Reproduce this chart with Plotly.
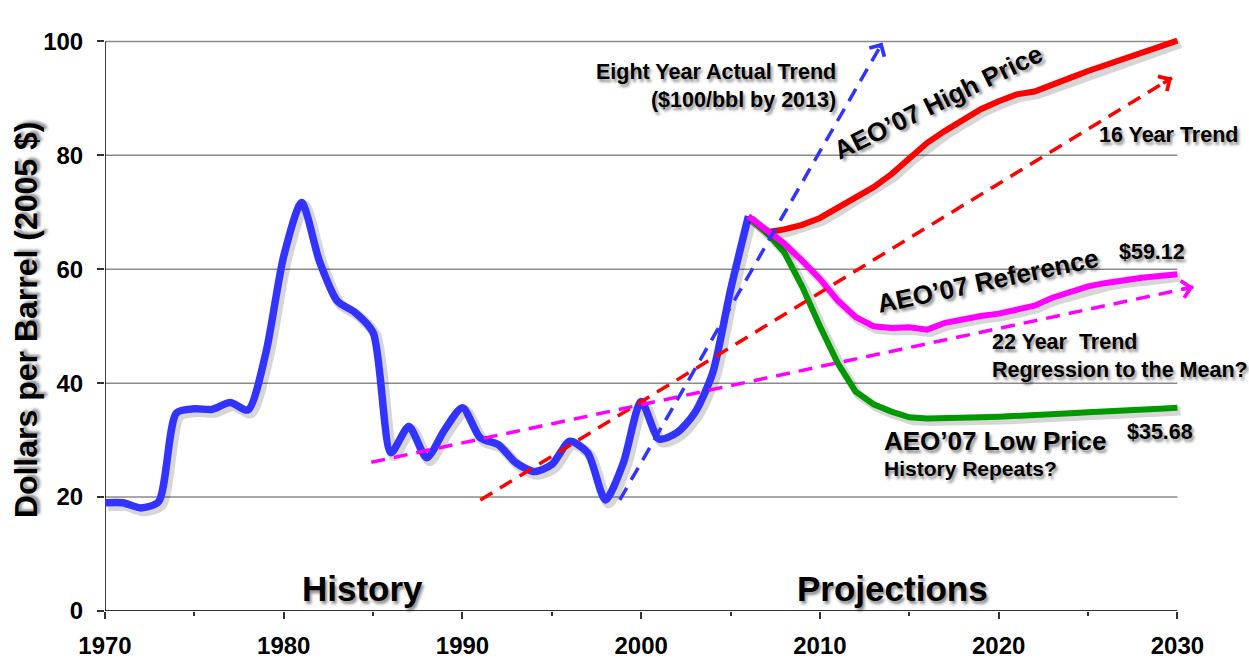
import plotly.graph_objects as go

# ---- data (2005 dollars per barrel) ----
hist_years = list(range(1970, 2007))
hist_price = [19.0, 19.0, 18.1, 19.2, 34.8, 35.5, 35.4, 36.6, 35.3, 45.3,
              62.3, 71.7, 61.4, 54.4, 52.4, 48.9, 27.8, 32.4, 26.9, 31.8,
              35.7, 30.4, 29.2, 26.0, 24.5, 25.7, 29.8, 27.8, 19.5, 26.0,
              36.8, 30.2, 31.3, 34.8, 41.8, 56.4, 69.3]

proj_years = list(range(2006, 2031))
high_price = [69.3, 66.5, 67.0, 67.8, 69.0, 70.9, 72.8, 74.4, 76.7, 79.6,
              82.2, 84.3, 86.2, 88.1, 89.5, 90.7, 91.2, 92.3, 93.6, 94.8,
              95.9, 97.0, 98.0, 99.1, 100.14]
reference_price = [69.3, 67.0, 64.5, 61.5, 58.3, 54.5, 51.6, 50.0, 49.7, 49.8,
                   49.4, 50.6, 51.3, 51.8, 52.2, 52.8, 53.6, 55.0, 56.0, 57.0,
                   57.6, 58.1, 58.5, 58.8, 59.12]
low_price = [69.3, 66.5, 63.0, 57.0, 50.0, 43.5, 38.5, 36.3, 35.0, 34.0,
             33.8, 33.8, 33.9, 34.0, 34.1, 34.2, 34.4, 34.5, 34.7, 34.9,
             35.0, 35.2, 35.4, 35.5, 35.68]

# trend lines: start/end (year, price)
trend_x0 = [1998.8, 1991.0, 1984.9]
trend_y0 = [19.5, 19.5, 26.1]
trend_x1 = [2013.5, 2029.7, 2030.9]
trend_y1 = [99.8, 93.6, 56.9]
trend_colors = ["#3333FF", "#FF0000", "#FF00FF"]

y_ticks = [0, 20, 40, 60, 80, 100]
x_ticks = [1970, 1980, 1990, 2000, 2010, 2020, 2030]

FONT = "Liberation Sans, Arial, sans-serif"
SHADOW = "2px 3px 3px rgba(0,0,0,0.45)"
SH_DX, SH_DY = 0.17, -0.55  # line shadow offset (years, dollars)

fig = go.Figure()


def add_line(x, y, color, width, spline=False):
    shape = "spline" if spline else "linear"
    fig.add_trace(go.Scatter(
        x=[v + SH_DX for v in x], y=[v + SH_DY for v in y], mode="lines",
        line=dict(color="rgba(0,0,0,0.16)", width=width + 3, shape=shape,
                  smoothing=0.7), hoverinfo="skip", showlegend=False))
    fig.add_trace(go.Scatter(
        x=x, y=y, mode="lines",
        line=dict(color=color, width=width, shape=shape, smoothing=0.7),
        showlegend=False))


add_line(hist_years, hist_price, "#3333FF", 7.5, spline=True)
add_line(proj_years, high_price, "#FF0000", 6)
add_line(proj_years, low_price, "#009900", 6)
add_line(proj_years, reference_price, "#FF00FF", 6)

# dashed trend lines with arrowheads
for x0, y0, x1, y1, c in zip(trend_x0, trend_y0, trend_x1, trend_y1, trend_colors):
    fig.add_trace(go.Scatter(x=[x0, x1], y=[y0, y1], mode="lines",
                             line=dict(color=c, width=3.5, dash="14px,9px"),
                             showlegend=False))
    t = 0.015
    fig.add_annotation(x=x1, y=y1, ax=x1 - t * (x1 - x0), ay=y1 - t * (y1 - y0),
                       xref="x", yref="y", axref="x", ayref="y", text="",
                       showarrow=True, arrowhead=4, arrowsize=0.95,
                       arrowwidth=3.5, arrowcolor=c)

# gridlines and axis lines
for v in y_ticks[1:]:
    fig.add_shape(type="line", xref="x", yref="y", x0=1970, x1=2030, y0=v, y1=v,
                  line=dict(color="#8a8a8a", width=1.5), layer="below")
fig.add_shape(type="line", xref="x", yref="y", x0=1970, x1=2030, y0=0, y1=0,
              line=dict(color="#333333", width=2), layer="below")
fig.add_shape(type="line", xref="x", yref="y", x0=1970, x1=1970, y0=0, y1=100,
              line=dict(color="#000000", width=1.5), layer="below")


def note(text, x, y, size, xanchor="center", angle=0, align="left", shadow=True):
    fig.add_annotation(x=x, y=y, xref="x", yref="y", text=text, showarrow=False,
                       xanchor=xanchor, yanchor="middle", textangle=angle,
                       align=align,
                       font=dict(family=FONT, size=size, color="black",
                                 weight="bold",
                                 shadow=SHADOW if shadow else "none"))


note("Eight Year Actual Trend<br>($100/bbl by 2013)", 2011.0, 92.1, 21.5,
     xanchor="right", align="right")
note("AEO’07 High Price", 2016.6, 89.4, 26, angle=-26)
note("16 Year Trend", 2025.5, 83.5, 21.5, xanchor="left")
note("$100.14", 2027.9, 103.8, 21)
note("AEO’07 Reference", 2019.35, 58.0, 26, angle=-12)
note("$59.12", 2028.6, 63.0, 21.5)
note("22 Year  Trend<br>Regression to the Mean?", 2019.5, 44.8, 21.5, xanchor="left")
note("AEO’07 Low Price", 2013.5, 29.9, 26, xanchor="left")
note("History Repeats?", 2013.5, 25.1, 21, xanchor="left")
note("$35.68", 2029.05, 31.5, 21.5)
note("History", 1984.4, 3.9, 35)
note("Projections", 2014.07, 3.9, 35)

fig.add_annotation(x=-0.071, y=51.2, xref="paper", yref="y",
                   text="Dollars per Barrel (2005 $)", showarrow=False,
                   textangle=-90, xanchor="center", yanchor="middle",
                   font=dict(family=FONT, size=32, color="black", weight="bold",
                             shadow=SHADOW))

fig.update_xaxes(range=[1970, 2031.6], tickvals=x_ticks, ticks="outside",
                 ticklen=7, tickwidth=1.5, tickcolor="#333333",
                 ticklabelstandoff=6,
                 showline=False, showgrid=False, zeroline=False,
                 minor=dict(tickvals=[1975, 1985, 1995, 2005, 2015, 2025],
                            ticks="outside", ticklen=4, tickwidth=1.5,
                            tickcolor="#333333", showgrid=False),
                 tickfont=dict(family=FONT, size=24, color="black", weight="bold"))
fig.update_yaxes(range=[0, 102], tickvals=y_ticks, ticks="outside", ticklen=7,
                 tickwidth=1.5, tickcolor="#333333", showline=False,
                 ticklabelstandoff=9,
                 showgrid=False, zeroline=False,
                 tickfont=dict(family=FONT, size=24, color="black", weight="bold"))

fig.update_layout(width=1249, height=660,
                  margin=dict(l=105, r=43.2, t=30.3, b=49, autoexpand=False),
                  plot_bgcolor="white", paper_bgcolor="white",
                  showlegend=False)

fig.write_html("out.html")
